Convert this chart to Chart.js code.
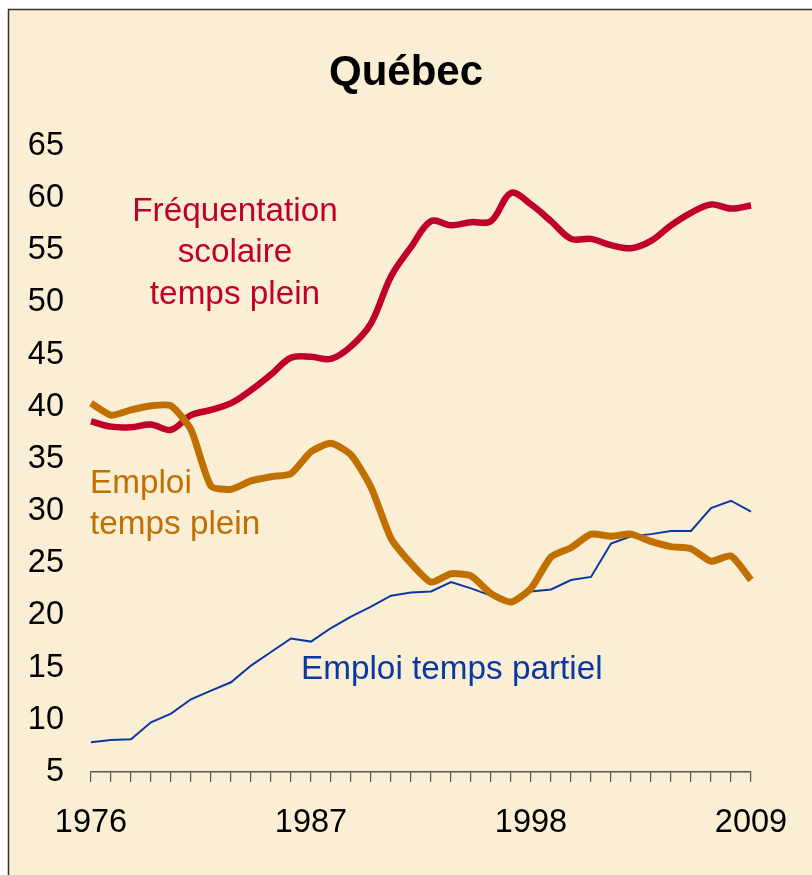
<!DOCTYPE html>
<html>
<head>
<meta charset="utf-8">
<script src="https://cdn.jsdelivr.net/npm/chart.js@4/dist/chart.umd.min.js"></script>
<style>
html,body{margin:0;padding:0;background:#ffffff;}
canvas{display:block;}
</style>
</head>
<body>
<canvas id="c" width="812" height="875"></canvas>
<script>
const years = ['1976','1977','1978','1979','1980','1981','1982','1983','1984','1985','1986','1987','1988','1989','1990','1991','1992','1993','1994','1995','1996','1997','1998','1999','2000','2001','2002','2003','2004','2005','2006','2007','2008','2009'];
const xTickLabels = ['1976','1987','1998','2009'];
const frequentation = [38.6,38.1,38.05,38.3,37.8,39.2,39.7,40.35,41.6,43.1,44.7,44.8,44.6,45.8,48.0,52.5,55.3,57.8,57.4,57.7,57.8,60.5,59.4,57.8,56.1,56.1,55.5,55.2,55.9,57.4,58.6,59.4,59.0,59.3];
const emploiPlein = [40.35,39.2,39.7,40.1,40.1,37.8,32.4,32.1,32.9,33.3,33.6,35.7,36.5,35.4,32.3,27.4,25.0,23.2,24.0,23.8,22.1,21.3,22.6,25.6,26.5,27.8,27.6,27.8,27.1,26.6,26.4,25.2,25.7,23.4];
const emploiPartiel = [7.85,8.07,8.13,9.76,10.6,11.97,12.8,13.6,15.2,16.5,17.8,17.5,18.8,19.9,20.85,21.9,22.2,22.3,23.2,22.6,21.9,21.2,22.3,22.5,23.4,23.7,26.9,27.6,27.8,28.1,28.1,30.3,31.0,29.95];

const RED = '#C00027', ORANGE = '#C07000', BLUE = '#0A38A0', BG = '#FAEFD5';
const FONT = '"Liberation Sans", Arial, sans-serif';

const framePlugin = {
  id: 'frame',
  beforeDraw(chart) {
    const ctx = chart.ctx;
    ctx.save();
    ctx.fillStyle = '#ffffff';
    ctx.fillRect(0, 0, chart.width, chart.height);
    ctx.fillStyle = BG;
    ctx.fillRect(8, 9, chart.width - 8, chart.height - 9);
    ctx.strokeStyle = '#333333';
    ctx.lineWidth = 1.5;
    ctx.beginPath();
    ctx.moveTo(8.5, chart.height);
    ctx.lineTo(8.5, 9.5);
    ctx.lineTo(chart.width, 9.5);
    ctx.stroke();
    ctx.restore();
  },
  afterDraw(chart) {
    const ctx = chart.ctx;
    ctx.save();
    ctx.fillStyle = '#000000';
    ctx.font = 'bold 42px ' + FONT;
    ctx.textAlign = 'center';
    ctx.textBaseline = 'alphabetic';
    ctx.fillText('Québec', 406, 85);

    ctx.font = '33.3px ' + FONT;
    ctx.fillStyle = RED;
    ctx.textAlign = 'center';
    ctx.fillText('Fréquentation', 235, 221);
    ctx.fillText('scolaire', 235, 262);
    ctx.fillText('temps plein', 235, 304);

    ctx.fillStyle = ORANGE;
    ctx.textAlign = 'left';
    ctx.fillText('Emploi', 90, 493);
    ctx.fillText('temps plein', 90, 534);

    ctx.fillStyle = BLUE;
    ctx.textAlign = 'left';
    ctx.fillText('Emploi temps partiel', 301, 679);
    ctx.restore();
  }
};

new Chart(document.getElementById('c'), {
  type: 'line',
  data: {
    labels: years,
    datasets: [
      { label: 'Emploi temps plein', data: emploiPlein, borderColor: ORANGE, borderWidth: 7, tension: 0.2, pointRadius: 0, order: 0, borderCapStyle: 'butt', borderJoinStyle: 'round' },
      { label: 'Fréquentation scolaire temps plein', data: frequentation, borderColor: RED, borderWidth: 6.5, tension: 0.35, pointRadius: 0, order: 1, borderJoinStyle: 'round' },
      { label: 'Emploi temps partiel', data: emploiPartiel, borderColor: BLUE, borderWidth: 2, tension: 0, pointRadius: 0, order: 2 }
    ]
  },
  options: {
    responsive: false,
    animation: false,
    devicePixelRatio: 1,
    layout: { padding: { left: 0, right: 61, top: 146, bottom: 0 } },
    plugins: { legend: { display: false }, tooltip: { enabled: false }, title: { display: false } },
    scales: {
      x: {
        type: 'category',
        offset: false,
        afterFit(scale) { scale.height = 103; },
        border: { display: true, color: '#555555', width: 1.5 },
        grid: { display: true, drawOnChartArea: false, drawTicks: true, tickLength: 10, color: '#555555', lineWidth: 1.2 },
        ticks: {
          autoSkip: false, maxRotation: 0, minRotation: 0, padding: 22,
          color: '#000000', font: { family: FONT, size: 32.5 },
          callback(value) { const l = years[value]; return xTickLabels.includes(l) ? l : ''; }
        }
      },
      y: {
        min: 5, max: 65,
        afterFit(scale) { scale.width = 91; },
        border: { display: false },
        grid: { display: false, drawTicks: false },
        ticks: { stepSize: 5, padding: 27, color: '#000000', font: { family: FONT, size: 32.5 } }
      }
    }
  },
  plugins: [framePlugin]
});
</script>
</body>
</html>
